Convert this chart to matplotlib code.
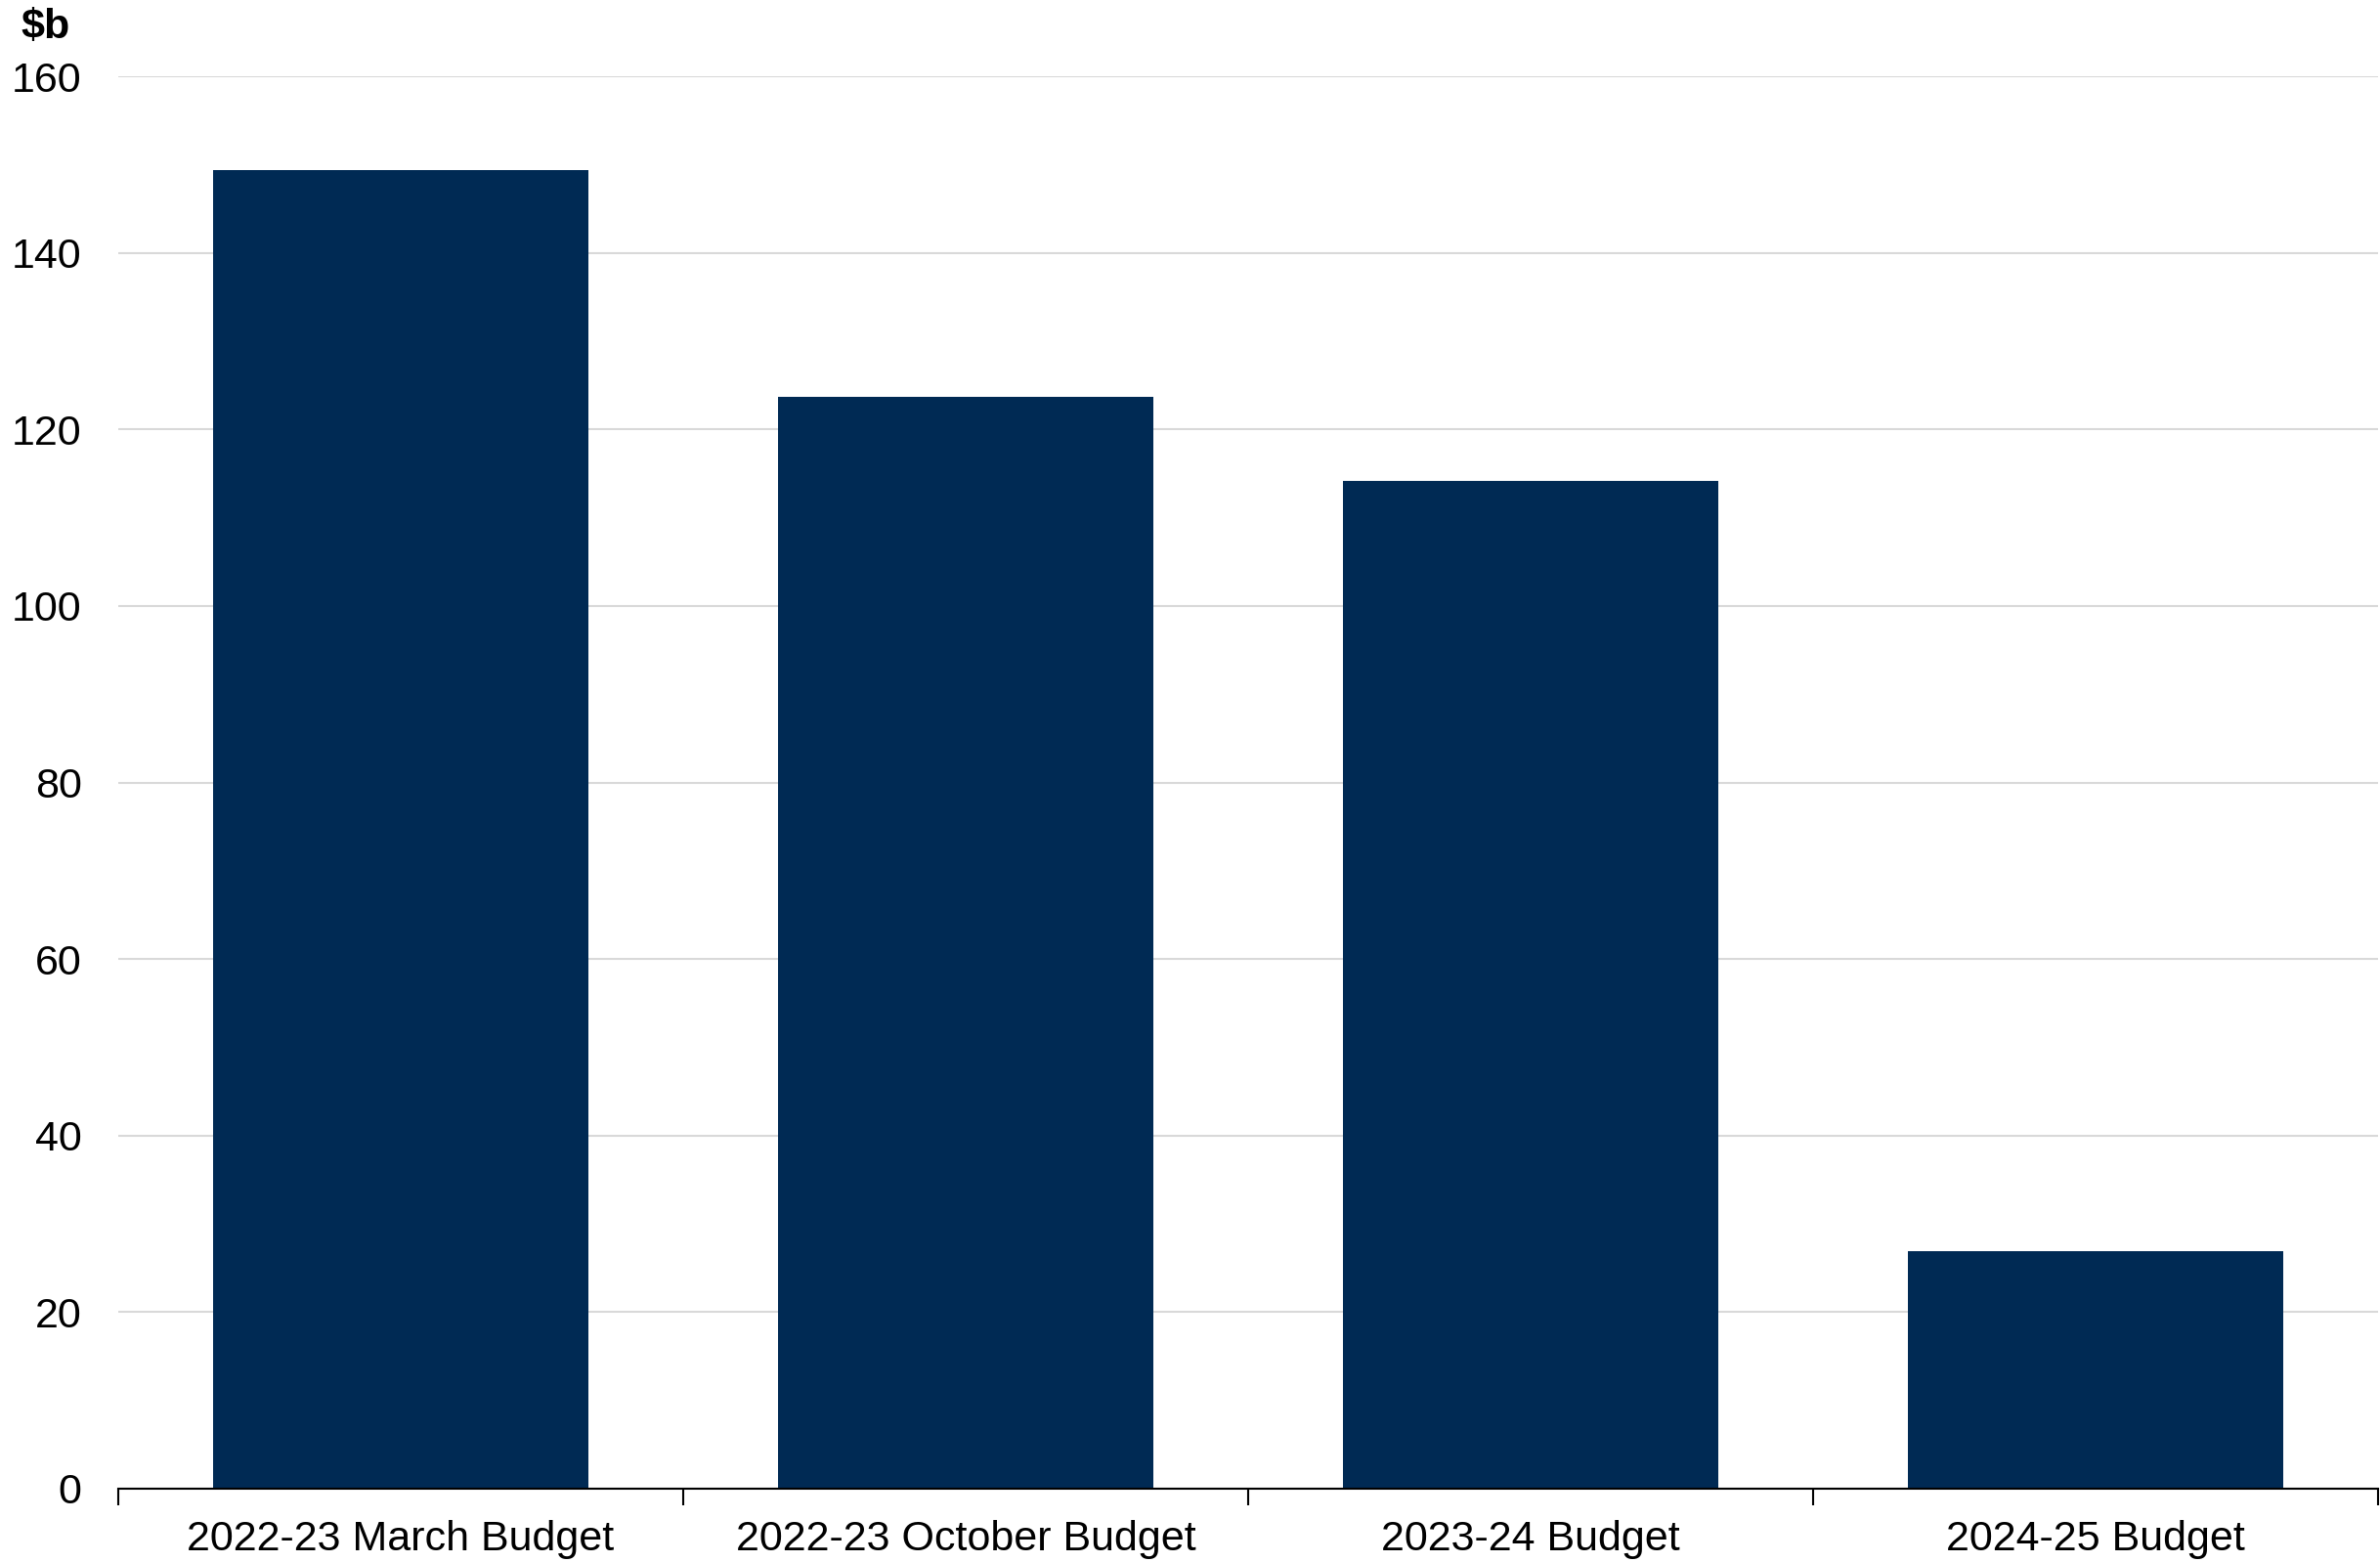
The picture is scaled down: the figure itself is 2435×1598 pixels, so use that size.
import matplotlib
matplotlib.use("Agg")
from matplotlib import pyplot as plt
import numpy as np

# budget estimates, $b
categories = ["2022-23 March Budget", "2022-23 October Budget", "2023-24 Budget", "2024-25 Budget"]
values = [149.4, 123.7, 114.2, 26.9]
yticks = [0, 20, 40, 60, 80, 100, 120, 140, 160]

BAR_COLOR = "#002a54"
GRID_COLOR = "#d9d9d9"
FS = 31

plt.rcParams["font.family"] = ["Liberation Sans", "DejaVu Sans"]

fig = plt.figure(figsize=(24.35, 15.98), dpi=100)
ax = fig.add_axes([121 / 2435, 75 / 1598, (2433 - 121) / 2435, (1523 - 78) / 1598])

x = np.arange(len(categories))
ax.bar(x, values, width=0.664, color=BAR_COLOR, zorder=3)

ax.set_xlim(-0.5, len(categories) - 0.5)
ax.set_ylim(0, 160)

# gridlines
ax.set_yticks(yticks)
ax.set_yticklabels([str(v) for v in yticks], fontsize=FS)
ax.yaxis.grid(True, color=GRID_COLOR, linewidth=1.5, zorder=0)
ax.set_axisbelow(True)
ax.tick_params(axis="y", length=0, pad=27)

# category labels centred, boundary ticks as minor ticks
ax.set_xticks(x)
ax.set_xticklabels(categories, fontsize=FS)
ax.set_xticks(np.arange(-0.5, len(categories), 1.0), minor=True)
ax.tick_params(axis="x", which="major", length=0, pad=23)
ax.tick_params(axis="x", which="minor", length=12, width=1.5, direction="out", color="black")

for s in ["top", "right", "left"]:
    ax.spines[s].set_visible(False)
ax.spines["bottom"].set_linewidth(1.5)
ax.spines["bottom"].set_zorder(4)

fig.text(47 / 2435, 1 - 28 / 1598, "$b", fontsize=FS, fontweight="bold", ha="center", va="center")

fig.savefig("out.png", dpi=100, facecolor="white")
